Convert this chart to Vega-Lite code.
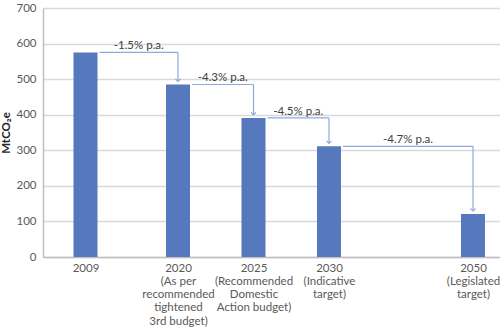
{
  "$schema": "https://vega.github.io/schema/vega-lite/v6.json",
  "width": 457,
  "height": 249,
  "autosize": {"type": "none"},
  "padding": {"left": 43, "top": 8, "right": 0, "bottom": 72},
  "background": "white",
  "config": {
    "font": "Lato",
    "view": {"stroke": null},
    "axis": {"labelFont": "Lato", "titleFont": "Lato"},
    "axisX": {
      "grid": false,
      "ticks": false,
      "domainColor": "#bfbfbf",
      "domainWidth": 1.5,
      "labelColor": "#595959",
      "labelFontSize": 11.5,
      "labelPadding": 5,
      "labelBaseline": "top",
      "labelLineHeight": 13.3,
      "labelOverlap": false,
      "labelBound": false,
      "labelFlush": false
    },
    "axisY": {
      "titleFontWeight": "bold",
      "titleFontSize": 11.5,
      "titleColor": "#262626",
      "titlePadding": 4,
      "ticks": false,
      "grid": true,
      "gridColor": "#d9d9d9",
      "gridWidth": 1.5,
      "domainColor": "#bfbfbf",
      "domainWidth": 1.5,
      "labelColor": "#595959",
      "labelFontSize": 11.5,
      "labelPadding": 7,
      "labelOverlap": false
    }
  },
  "datasets": {
    "bars": [
      {"year": 2009, "value": 575},
      {"year": 2020, "value": 485},
      {"year": 2025, "value": 391},
      {"year": 2030, "value": 311},
      {"year": 2050, "value": 121}
    ],
    "steps": [
      {"from": 2009, "to": 2020, "fromVal": 575, "toVal": 485, "label": "-1.5% p.a."},
      {"from": 2020, "to": 2025, "fromVal": 485, "toVal": 391, "label": "-4.3% p.a."},
      {"from": 2025, "to": 2030, "fromVal": 391, "toVal": 311, "label": "-4.5% p.a."},
      {"from": 2030, "to": 2050, "fromVal": 311, "toVal": 121, "label": "-4.7% p.a."}
    ]
  },
  "layer": [
    {
      "data": {"name": "bars"},
      "mark": {"type": "bar", "size": 24, "color": "#5579bc"},
      "encoding": {
        "x": {
          "field": "year",
          "type": "quantitative",
          "title": null,
          "scale": {"domain": [2003.95, 2009, 2020, 2030, 2050, 2053.75], "range": [0, 42.5, 135, 286, 430, 457], "nice": false, "zero": false},
          "axis": {
            "values": [2009, 2020, 2025, 2030, 2050],
            "labelExpr": "datum.value == 2020 ? ['2020', '(As per', 'recommended', 'tightened', '3rd budget)'] : datum.value == 2025 ? ['2025', '(Recommended', 'Domestic', 'Action budget)'] : datum.value == 2030 ? ['2030', '(Indicative', 'target)'] : datum.value == 2050 ? ['2050', '(Legislated', 'target)'] : '2009'"
          }
        },
        "y": {
          "field": "value",
          "type": "quantitative",
          "title": "MtCO₂e",
          "scale": {"domain": [0, 700], "nice": false},
          "axis": {"values": [0, 100, 200, 300, 400, 500, 600, 700]}
        }
      }
    },
    {
      "data": {"name": "steps"},
      "mark": {"type": "rule", "color": "#8eaadb", "strokeWidth": 1.2, "xOffset": 14, "x2Offset": 0},
      "encoding": {
        "x": {"field": "from", "type": "quantitative", "title": null, "axis": {"values": [2009, 2020, 2025, 2030, 2050], "labelExpr": "datum.value == 2020 ? ['2020', '(As per', 'recommended', 'tightened', '3rd budget)'] : datum.value == 2025 ? ['2025', '(Recommended', 'Domestic', 'Action budget)'] : datum.value == 2030 ? ['2030', '(Indicative', 'target)'] : datum.value == 2050 ? ['2050', '(Legislated', 'target)'] : '2009'"}},
        "x2": {"field": "to"},
        "y": {"field": "fromVal", "type": "quantitative", "title": "MtCO₂e", "axis": {"values": [0, 100, 200, 300, 400, 500, 600, 700]}}
      }
    },
    {
      "data": {"name": "steps"},
      "mark": {"type": "rule", "color": "#8eaadb", "strokeWidth": 1.2, "y2Offset": -3},
      "encoding": {
        "x": {"field": "to", "type": "quantitative", "title": null, "axis": {"values": [2009, 2020, 2025, 2030, 2050], "labelExpr": "datum.value == 2020 ? ['2020', '(As per', 'recommended', 'tightened', '3rd budget)'] : datum.value == 2025 ? ['2025', '(Recommended', 'Domestic', 'Action budget)'] : datum.value == 2030 ? ['2030', '(Indicative', 'target)'] : datum.value == 2050 ? ['2050', '(Legislated', 'target)'] : '2009'"}},
        "y": {"field": "fromVal", "type": "quantitative", "title": "MtCO₂e", "axis": {"values": [0, 100, 200, 300, 400, 500, 600, 700]}},
        "y2": {"field": "toVal"}
      }
    },
    {
      "data": {"name": "steps"},
      "mark": {"type": "point", "shape": "M-1,-1L0,0L1,-1", "size": 25, "filled": false, "color": "#8eaadb", "strokeWidth": 1.2, "yOffset": -3, "opacity": 1},
      "encoding": {
        "x": {"field": "to", "type": "quantitative", "title": null, "axis": {"values": [2009, 2020, 2025, 2030, 2050], "labelExpr": "datum.value == 2020 ? ['2020', '(As per', 'recommended', 'tightened', '3rd budget)'] : datum.value == 2025 ? ['2025', '(Recommended', 'Domestic', 'Action budget)'] : datum.value == 2030 ? ['2030', '(Indicative', 'target)'] : datum.value == 2050 ? ['2050', '(Legislated', 'target)'] : '2009'"}},
        "y": {"field": "toVal", "type": "quantitative", "title": "MtCO₂e", "axis": {"values": [0, 100, 200, 300, 400, 500, 600, 700]}}
      }
    },
    {
      "data": {"name": "steps"},
      "transform": [{"fold": ["from", "to"], "as": ["end", "yr"]}],
      "mark": {"type": "text", "fontSize": 11.5, "color": "#404040", "baseline": "bottom", "dy": -1, "xOffset": 7},
      "encoding": {
        "x": {"field": "yr", "aggregate": "mean", "type": "quantitative", "title": null, "axis": {"values": [2009, 2020, 2025, 2030, 2050], "labelExpr": "datum.value == 2020 ? ['2020', '(As per', 'recommended', 'tightened', '3rd budget)'] : datum.value == 2025 ? ['2025', '(Recommended', 'Domestic', 'Action budget)'] : datum.value == 2030 ? ['2030', '(Indicative', 'target)'] : datum.value == 2050 ? ['2050', '(Legislated', 'target)'] : '2009'"}},
        "y": {"field": "fromVal", "type": "quantitative", "title": "MtCO₂e", "axis": {"values": [0, 100, 200, 300, 400, 500, 600, 700]}},
        "text": {"field": "label", "type": "nominal"}
      }
    }
  ]
}
